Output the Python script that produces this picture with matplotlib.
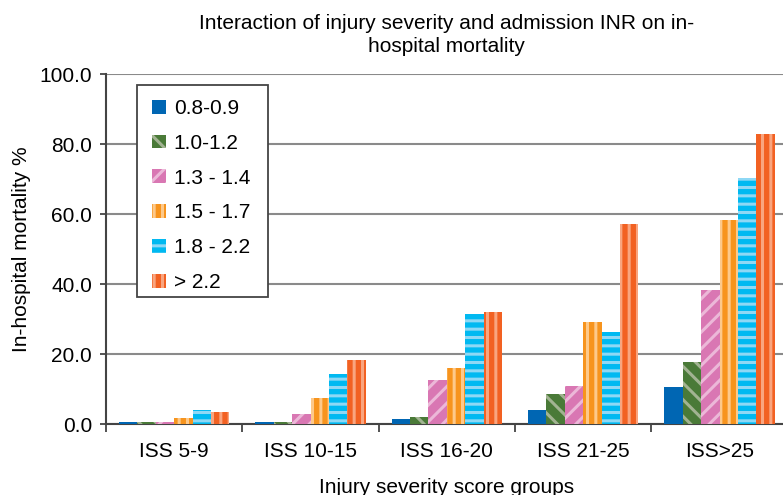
import numpy as np
import matplotlib as mpl
mpl.use("Agg")
import matplotlib.pyplot as plt
from matplotlib.patches import Rectangle

plt.rcParams['font.family'] = ['Liberation Sans', 'DejaVu Sans']
plt.rcParams['hatch.linewidth'] = 2.2

groups = ["ISS 5-9", "ISS 10-15", "ISS 16-20", "ISS 21-25", "ISS>25"]
inr_labels = ["0.8-0.9", "1.0-1.2", "1.3 - 1.4", "1.5 - 1.7", "1.8 - 2.2", "> 2.2"]

inr_08_09 = [0.5, 0.5, 1.5, 3.9, 10.7]
inr_10_12 = [0.5, 0.5, 2.1, 8.5, 17.6]
inr_13_14 = [0.5, 2.8, 12.5, 10.8, 38.3]
inr_15_17 = [1.6, 7.4, 16.0, 29.1, 58.3]
inr_18_22 = [3.9, 14.2, 31.3, 26.3, 70.3]
inr_gt_22 = [3.4, 18.2, 31.9, 57.2, 82.9]

series = [inr_08_09, inr_10_12, inr_13_14, inr_15_17, inr_18_22, inr_gt_22]
face = ["#0066b3", "#4a7a38", "#d977b3", "#f7941d", "#00b9f1", "#f26122"]
hcol = ["#0066b3", "#a2b392", "#ecb8d8", "#fdc98a", "#8ed8f5", "#f9a57f"]
hatches = [None, "\\\\", "//", "||", "--", "||"]

fs = 15
fig = plt.figure(figsize=(7.83, 4.95), dpi=100)
ax = fig.add_axes([0.1354, 0.1434, 0.8706, 0.7071])

x = np.arange(len(groups))
w = 0.135
for i, vals in enumerate(series):
    ax.bar(x + (i - 2.5) * w, vals, w, color=face[i], edgecolor=hcol[i],
           linewidth=0, hatch=hatches[i], label=inr_labels[i], zorder=3)

ax.set_ylim(0, 100)
ax.set_xlim(-0.5, 4.5)
ax.set_yticks(np.arange(0, 101, 20))
ax.set_yticklabels(["%.1f" % v for v in np.arange(0, 101, 20)], fontsize=fs)
ax.yaxis.grid(True, color="#8a8a8a", linewidth=1.5, zorder=0)
ax.set_axisbelow(True)

ax.set_xticks(x)
ax.set_xticklabels(groups, fontsize=fs)
ax.tick_params(axis="x", length=0, pad=13)
ax.set_xticks(np.arange(-0.5, 5.0, 1), minor=True)
ax.tick_params(axis="x", which="minor", length=6, width=1.3, color="#444444")
ax.tick_params(axis="y", length=4.5, width=1.3, color="#444444", pad=5.5)

for s in ["top", "right"]:
    ax.spines[s].set_visible(False)
ax.spines["left"].set_color("#444444")
ax.spines["left"].set_linewidth(1.5)
ax.spines["bottom"].set_color("#444444")
ax.spines["bottom"].set_linewidth(1.5)

ax.set_ylabel("In-hospital mortality %", fontsize=fs, labelpad=6)
ax.set_xlabel("Injury severity score groups", fontsize=fs, labelpad=12)
ax.set_title("Interaction of injury severity and admission INR on in-\nhospital mortality",
             fontsize=fs, pad=15.5, linespacing=1.27)

# legend box drawn separately so the padding matches
frame = Rectangle((0.0455, 0.363), 0.192, 0.606, transform=ax.transAxes,
                  facecolor="white", edgecolor="#444444", linewidth=1.3, zorder=4)
ax.add_patch(frame)
leg = ax.legend(loc="upper left", bbox_to_anchor=(0.0674, 0.9286), fontsize=fs,
                frameon=False, labelspacing=0.76,
                handlelength=0.65, handleheight=0.65, handletextpad=0.4,
                borderpad=0, borderaxespad=0)
leg.set_zorder(5)

fig.savefig("out.png", dpi=100)
